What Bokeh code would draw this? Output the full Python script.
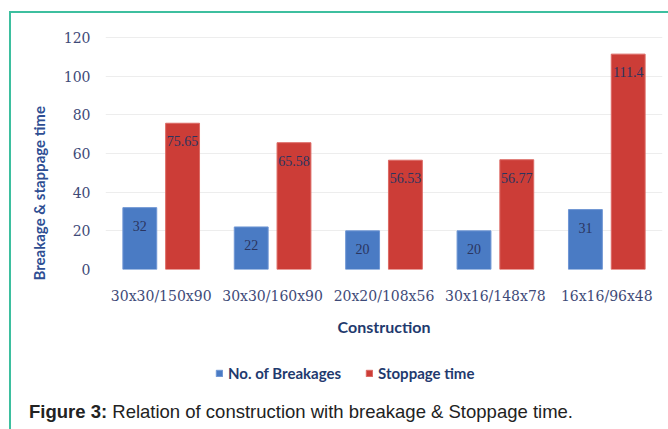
from bokeh.plotting import figure
from bokeh.models import (ColumnDataSource, FixedTicker, LabelSet, Legend, LegendItem,
                          Title, Div, Range1d)
from bokeh.layouts import column
from bokeh.transform import dodge
from bokeh.embed import file_html
from bokeh.resources import INLINE

constructions = ["30x30/150x90", "30x30/160x90", "20x20/108x56", "30x16/148x78", "16x16/96x48"]
breakages = [32, 22, 20, 20, 31]
stoppage = [75.65, 65.58, 56.53, 56.77, 111.4]
breakage_labels = ["32", "22", "20", "20", "31"]
stoppage_labels = ["75.65", "65.58", "56.53", "56.77", "111.4"]
y_ticks = [0, 20, 40, 60, 80, 100, 120]

src = ColumnDataSource(dict(x=constructions, b=breakages, s=stoppage,
                            bl=breakage_labels, sl=stoppage_labels))

BLUE = "#4a7bc4"
RED = "#cc3d37"
NAVY = "#2a3560"
TICK = "#3e4a78"
TEAL = "#3dbf9f"
W = 655

p = figure(x_range=constructions, y_range=(0, 124.66), width=W, height=336,
           output_backend="svg", toolbar_location=None,
           min_border_left=94, min_border_right=4, min_border_top=15, min_border_bottom=80)
p.outline_line_color = None
p.background_fill_color = "white"
p.border_fill_color = "white"

rb = p.vbar(x=dodge("x", -0.192, range=p.x_range), top="b", width=0.304, source=src,
            fill_color=BLUE, line_color="#6f96d4", line_width=1)
rs = p.vbar(x=dodge("x", 0.192, range=p.x_range), top="s", width=0.304, source=src,
            fill_color=RED, line_color="#dc6a65", line_width=1)

for col, ycol, off in (("bl", "b", -0.192), ("sl", "s", 0.192)):
    ls = LabelSet(x=dodge("x", off, range=p.x_range), y=ycol, text=col, source=src,
                  y_offset=-18, text_align="center", text_baseline="middle",
                  text_font="DejaVu Serif", text_font_size="14px", text_color=NAVY)
    p.add_layout(ls)

p.xgrid.grid_line_color = None
p.ygrid.grid_line_color = "#ededed"
p.yaxis.ticker = FixedTicker(ticks=y_ticks)

for ax in (p.xaxis, p.yaxis):
    ax.axis_line_color = None
    ax.major_tick_line_color = None
    ax.minor_tick_line_color = None
    ax.major_tick_out = 0
    ax.major_tick_in = 0
    ax.major_label_text_font = "DejaVu Serif"
    ax.major_label_text_font_size = "14px"
    ax.major_label_text_color = TICK

p.yaxis.major_label_standoff = 15
p.xaxis.major_label_standoff = 18
p.xaxis.axis_label = "Construction"
p.xaxis.axis_label_text_font = "Lato"
p.xaxis.axis_label_text_font_style = "bold"
p.xaxis.axis_label_text_font_size = "16px"
p.xaxis.axis_label_text_color = "#1f3a6e"
p.xaxis.axis_label_standoff = 10

ytitle = Title(text="Breakage & stappage time", align="left", offset=-11, standoff=21,
               vertical_align="top",
               text_font="Lato", text_font_style="bold", text_font_size="15px",
               text_color="#2e4e93")
p.add_layout(ytitle, "left")

# legend strip: same bars drawn on an out-of-view range, only their legend is seen
p2 = figure(x_range=p.x_range, y_range=Range1d(1000, 1001), width=W, height=36,
            output_backend="svg", toolbar_location=None,
            x_axis_type=None, y_axis_type=None, min_border=0)
p2.outline_line_color = None
p2.grid.visible = False
lb = p2.vbar(x="x", top="b", width=0.3, source=src, fill_color=BLUE, line_color="#6f96d4")
lr = p2.vbar(x="x", top="s", width=0.3, source=src, fill_color=RED, line_color="#dc6a65")
legend = Legend(items=[LegendItem(label="No. of Breakages", renderers=[lb]),
                       LegendItem(label="Stoppage time", renderers=[lr])],
                location=(110, 3), orientation="horizontal",
                padding=0, margin=0, spacing=24, label_standoff=5,
                glyph_width=8, glyph_height=8, label_height=18,
                label_text_font="Lato", label_text_font_style="bold",
                label_text_font_size="15px", label_text_color="#1f3a6e",
                border_line_color=None, background_fill_alpha=0)
p2.add_layout(legend)

caption = Div(width=W, height=42,
              text='<div style="font-family: \'Liberation Sans\', Arial, sans-serif; font-size: 18.5px; '
                   'line-height: 22px; padding-top: 11px; padding-left: 13px; color: #222222; '
                   'white-space: nowrap;"><b>Figure 3:</b> Relation of construction with '
                   'breakage &amp; Stoppage time.</div>')

inner = column(p, p2, caption, spacing=0,
               styles={"border-left": "2px solid " + TEAL, "border-top": "2px solid " + TEAL})
layout = column(inner, spacing=0, styles={"padding-left": "9px", "padding-top": "11px"})

open("out.html", "w").write(file_html(layout, INLINE))
